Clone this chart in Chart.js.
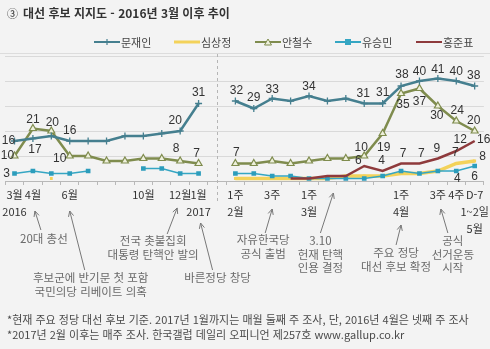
<!DOCTYPE html>
<html lang="ko">
<head>
<meta charset="utf-8">
<title>대선 후보 지지도 - 2016년 3월 이후 추이</title>
<script src="https://cdn.jsdelivr.net/npm/chart.js@4.4.1/dist/chart.umd.min.js"></script>
<style>
  html, body { margin: 0; padding: 0; }
  body {
    width: 490px; height: 349px; position: relative; overflow: hidden;
    background: #f3f3f3; color: #333;
    font-family: 'Noto Sans CJK KR', 'Noto Sans', sans-serif;
  }
  #chart { position: absolute; left: 0; top: 0; }
  .title { position: absolute; left: 7px; top: 4px; font-size: 12px; font-weight: bold; color: #333; white-space: nowrap; }
  .title span { font-weight: normal; margin-right: 5px; font-size: 11px; }
  .sep { position: absolute; left: 0; width: 490px; top: 53px; height: 1px; background: #dcdcdc; }
  .legend-item { position: absolute; top: 35px; height: 14px; font-size: 11px; color: #444; display: flex; align-items: center; white-space: nowrap; }
  .legend-item svg { margin-right: 1px; }
  .note { position: absolute; font-size: 11.5px; line-height: 13.5px; color: #6a6a6a; text-align: center; white-space: nowrap; transform: translateX(-50%); }
  .foot { position: absolute; left: 7px; font-size: 11px; color: #4a4a4a; white-space: nowrap; }
</style>
</head>
<body>
<canvas id="chart" width="490" height="349"></canvas>
<div class="title"><span>③</span>대선 후보 지지도 - 2016년 3월 이후 추이</div>
<div id="legend"></div>
<div class="sep"></div>
<div id="notes"></div>
<div class="foot" style="top:311px">*현재 주요 정당 대선 후보 기준. 2017년 1월까지는 매월 둘째 주 조사, 단, 2016년 4월은 넷째 주 조사</div>
<div class="foot" style="top:326px">*2017년 2월 이후는 매주 조사. 한국갤럽 데일리 오피니언 제257호 www.gallup.co.kr</div>
<script>
// 2016.3 ~ 2017.1 monthly, a blank slot, then weekly from 2017.2
const periods = [
  ['3월', '2016'], '4월', '', '6월', '', '', '', '10월', '', '12월', ['1월', '2017'],
  '',
  ['1주', '2월'], '', '3주', '', ['1주', '3월'], '', '', '', '', ['1주', '4월'], '', '3주', '4주', ['D-7', '1~2일', '5월']
];

const moonJaein = [16, 17, 18, 16, 16, 16, 18, 18, 19, 20, 31, null,
  32, 29, 33, 32, 34, 32, 33, 31, 31, 38, 40, 41, 40, 38];
const ahnCheolsoo = [10, 21, 20, 10, 10, 8, 8, 9, 9, 8, 7, null,
  7, 7, 8, 7, 8, 9, 9, 10, 19, 35, 37, 30, 24, 20];
const yooSeungmin = [3, 4, 3, 3, 4, null, null, 5, 5, 3, 3, null,
  3, 3, 2, 2, 1, 1, 1, 1, 2, 4, 3, 4, 4, 6];
const simSangjeung = [null, null, 1, null, null, null, null, null, null, null, null, null,
  1, 1, 1, 1, 1, 1, 2, 2, 2, 3, 3, 4, 7, 8];
const hongJunpyo = [null, null, null, null, null, null, null, null, null, null, null, null,
  null, null, null, 1, 1, 2, 2, 6, 4, 7, 7, 9, 12, 16];

const yTicks = [0, 10, 20, 30, 40, 50];

const colors = {
  moon: '#457f8f',
  sim: '#f3d25a',
  ahn: '#7f8c4e',
  yoo: '#35a6c3',
  hong: '#8e3a3c'
};

// which points carry a value label, with the label's offset from the point
const moonLabels = {0: [-6, 0], 1: [2, 11], 3: [0, -10], 9: [-5, -10], 10: [0, -11], 12: [1, -10], 13: [0, -11],
  14: [0, -9], 16: [0, -9], 19: [-1, -10], 20: [0, -11], 21: [1, -11], 22: [0, -9], 23: [0, -9], 24: [0, -9], 25: [-1, -10]};
const ahnLabels = {0: [-7, 0], 1: [0, -9], 2: [1, -8], 3: [-10, 3], 9: [-4, -12], 10: [-2, -10], 12: [1, -11],
  19: [-3, -8], 20: [1, 14], 21: [2, 11], 22: [0, 13], 23: [-1, 10], 24: [1, -10], 25: [-1, -10]};
const yooLabels = {0: [-8, 0], 24: [1, 8], 25: [0, 11]};
const simLabels = {24: [-1, -11], 25: [8, -4]};
const hongLabels = {19: [-6, -5], 20: [-1, -10], 21: [2, -10], 22: [2, -10], 23: [-1, -10], 24: [4, -11], 25: [9, -1]};

// event notes below the axis: category, arrow tip / tail, text centre
const events = [
  {at: 1, lines: ['20대 총선'], tip: [2, 211], tail: [8, 230], text: [11, 239]},
  {at: 3, lines: ['후보군에 반기문 첫 포함', '국민의당 리베이트 의혹'], tip: [0, 211], tail: [15, 270], text: [21, 278]},
  {at: 9, lines: ['전국 촛불집회', '대통령 탄핵안 발의'], tip: [-3, 208], tail: [-13, 234], text: [-27, 241]},
  {at: 10, lines: ['바른정당 창당'], tip: [2, 223], tail: [14, 270], text: [19, 278]},
  {at: 14, lines: ['자유한국당', '공식 출범'], tip: [0, 209], tail: [-7, 233], text: [-9, 240]},
  {at: 17, lines: ['3.10', '헌재 탄핵', '인용 결정'], tip: [6, 193], tail: [-7, 233], text: [-7, 241]},
  {at: 21, lines: ['주요 정당', '대선 후보 확정'], tip: [0, 225], tail: [-5, 245], text: [-5, 253]},
  {at: 23, lines: ['공식', '선거운동', '시작'], tip: [3, 209], tail: [10, 233], text: [15, 241]}
];

// legend
const legendItems = [
  {name: '문재인', color: colors.moon, marker: 'cross', x: 94},
  {name: '심상정', color: colors.sim, marker: 'none', x: 174},
  {name: '안철수', color: colors.ahn, marker: 'triangle', x: 255},
  {name: '유승민', color: colors.yoo, marker: 'square', x: 335},
  {name: '홍준표', color: colors.hong, marker: 'none', x: 416}
];

function legendSvg(item) {
  let mark = '';
  if (item.marker === 'cross') {
    mark = `<line x1="13" y1="3" x2="13" y2="9" stroke="${item.color}" stroke-width="1.2"/>`;
  } else if (item.marker === 'triangle') {
    mark = `<polygon points="13,3 16.5,9 9.5,9" fill="#eef0dc" stroke="${item.color}" stroke-width="1"/>`;
  } else if (item.marker === 'square') {
    mark = `<rect x="10" y="3" width="6" height="6" fill="${item.color}"/>`;
  }
  const w = item.name === '심상정' ? 3 : 2;
  return `<svg width="26" height="12" viewBox="0 0 26 12"><line x1="0" y1="6" x2="26" y2="6" stroke="${item.color}" stroke-width="${w}"/>${mark}</svg>`;
}

const legend = document.getElementById('legend');
legendItems.forEach(item => {
  const div = document.createElement('div');
  div.className = 'legend-item';
  div.style.left = item.x + 'px';
  div.innerHTML = legendSvg(item) + item.name;
  legend.appendChild(div);
});

// dashed separator, value labels and event arrows
const overlay = {
  id: 'overlay',
  beforeDatasetsDraw(chart) {
    const {ctx, scales: {x}} = chart;
    const px = Math.round(x.getPixelForValue(11)) + 0.5;
    ctx.save();
    ctx.strokeStyle = '#b5b5b5';
    ctx.lineWidth = 1;
    ctx.setLineDash([3, 3]);
    ctx.beginPath();
    ctx.moveTo(px, 54);
    ctx.lineTo(px, 203);
    ctx.stroke();
    ctx.restore();
  },
  afterDatasetsDraw(chart) {
    const {ctx} = chart;
    ctx.save();
    ctx.font = '12px "Liberation Sans", sans-serif';
    ctx.fillStyle = '#333';
    ctx.textAlign = 'center';
    ctx.textBaseline = 'middle';
    chart.data.datasets.forEach((ds, di) => {
      const meta = chart.getDatasetMeta(di);
      Object.keys(ds.valueLabels || {}).forEach(k => {
        const i = Number(k);
        const pt = meta.data[i];
        if (!pt || ds.data[i] == null) return;
        const [dx, dy] = ds.valueLabels[k];
        ctx.fillText(String(ds.data[i]), pt.x + dx, pt.y + dy);
      });
    });
    ctx.restore();
  },
  afterDraw(chart) {
    const {ctx, scales: {x}} = chart;
    ctx.save();
    ctx.strokeStyle = '#777';
    ctx.lineWidth = 1;
    events.forEach(ev => {
      const cx = x.getPixelForValue(ev.at);
      const tx = cx + ev.tip[0], ty = ev.tip[1];
      const sx = cx + ev.tail[0], sy = ev.tail[1];
      const ang = Math.atan2(ty - sy, tx - sx);
      ctx.beginPath();
      ctx.moveTo(sx, sy);
      ctx.lineTo(tx, ty);
      ctx.moveTo(tx - 6 * Math.cos(ang - 0.45), ty - 6 * Math.sin(ang - 0.45));
      ctx.lineTo(tx, ty);
      ctx.lineTo(tx - 6 * Math.cos(ang + 0.45), ty - 6 * Math.sin(ang + 0.45));
      ctx.stroke();
    });
    ctx.restore();
  }
};

const chart = new Chart(document.getElementById('chart'), {
  type: 'line',
  data: {
    labels: periods,
    datasets: [
      {
        label: '문재인', data: moonJaein, valueLabels: moonLabels,
        borderColor: colors.moon, backgroundColor: colors.moon, borderWidth: 2.5,
        pointStyle: 'cross', pointRadius: 3.5, pointBorderWidth: 1.3
      },
      {
        label: '안철수', data: ahnCheolsoo, valueLabels: ahnLabels,
        borderColor: colors.ahn, backgroundColor: '#eef0dc', borderWidth: 2.5,
        pointStyle: 'triangle', pointRadius: 4, pointBorderWidth: 1.2
      },
      {
        label: '홍준표', data: hongJunpyo, valueLabels: hongLabels,
        borderColor: colors.hong, backgroundColor: colors.hong, borderWidth: 2.5,
        pointRadius: 0
      },
      {
        label: '유승민', data: yooSeungmin, valueLabels: yooLabels,
        borderColor: colors.yoo, backgroundColor: '#2c9dbc', borderWidth: 1.5,
        pointStyle: 'rect', pointRadius: 3.3, pointBorderWidth: 0
      },
      {
        label: '심상정', data: simSangjeung, valueLabels: simLabels,
        borderColor: colors.sim, backgroundColor: colors.sim, borderWidth: 3.5,
        pointStyle: 'rect', pointRadius: 2, pointBorderWidth: 0
      }
    ]
  },
  options: {
    responsive: false,
    animation: false,
    spanGaps: false,
    layout: {padding: {left: 1, right: 5, top: 56, bottom: 0}},
    plugins: {legend: {display: false}, tooltip: {enabled: false}},
    elements: {line: {tension: 0}},
    scales: {
      x: {
        type: 'category',
        offset: true,
        grid: {offset: true, drawOnChartArea: false, drawTicks: true, tickLength: 4, color: '#b8b8b8'},
        border: {display: true, color: '#b8b8b8'},
        ticks: {
          autoSkip: false, maxRotation: 0, padding: 1, color: '#333',
          font: {size: 11, family: "'Noto Sans CJK KR', sans-serif", lineHeight: 1.55}
        },
        afterFit(scale) { scale.height = 349 - 181; }
      },
      y: {
        min: yTicks[0], max: yTicks[yTicks.length - 1],
        afterBuildTicks(scale) { scale.ticks = yTicks.map(v => ({value: v})); },
        grid: {color: '#d9d9d9', drawTicks: false},
        border: {display: false},
        ticks: {display: false},
        afterFit(scale) { scale.width = 0; }
      }
    }
  },
  plugins: [overlay]
});

// event notes as text, placed from the same category scale
const xScale = chart.scales.x;
const notes = document.getElementById('notes');
events.forEach(ev => {
  const div = document.createElement('div');
  div.className = 'note';
  div.style.left = (xScale.getPixelForValue(ev.at) + ev.text[0]) + 'px';
  div.style.top = (ev.text[1] - 7) + 'px';
  div.innerHTML = ev.lines.join('<br>');
  notes.appendChild(div);
});
</script>
</body>
</html>
